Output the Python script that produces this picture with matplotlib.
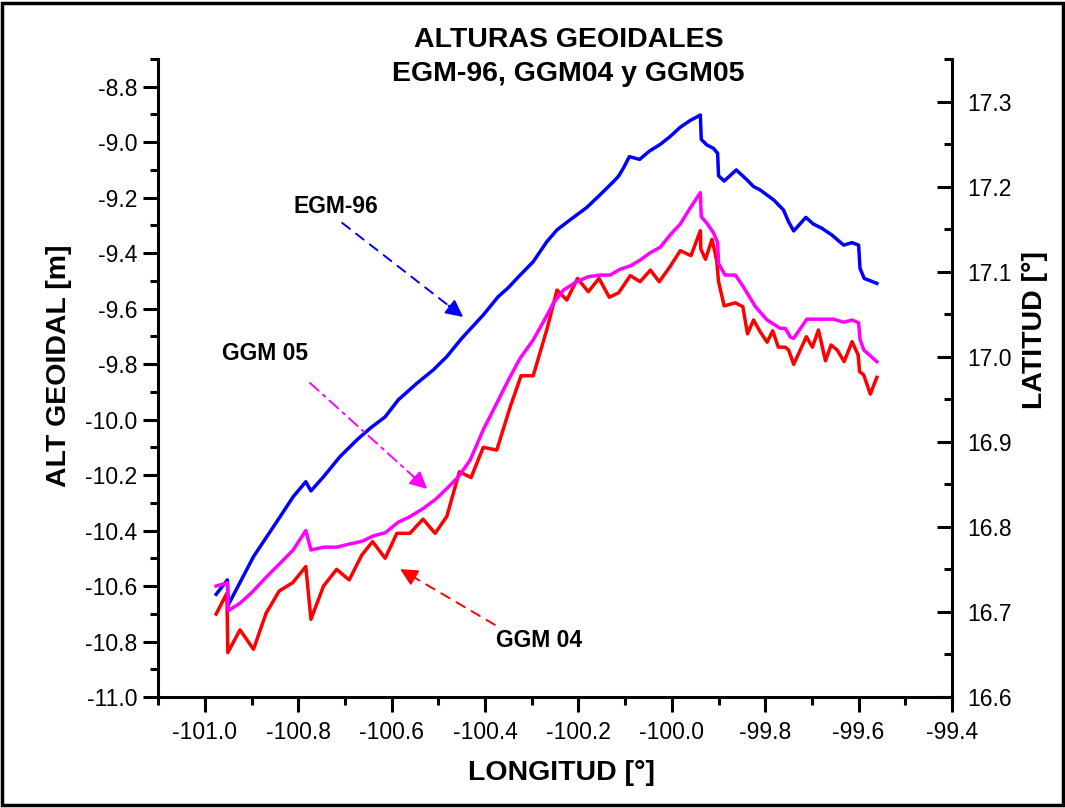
import matplotlib
matplotlib.use('Agg')
import matplotlib.pyplot as plt
from matplotlib.patches import Rectangle
from matplotlib.ticker import MultipleLocator, FormatStrFormatter

plt.rcParams['font.family'] = ['Liberation Sans', 'DejaVu Sans']
plt.rcParams['axes.unicode_minus'] = False

# perfil EGM-96
lon_egm96 = [-100.976, -100.952, -100.950, -100.896, -100.839, -100.811, -100.784, -100.773,
             -100.746, -100.711, -100.675, -100.646, -100.614, -100.586, -100.546, -100.511,
             -100.482, -100.450, -100.404, -100.372, -100.350, -100.325, -100.297, -100.268,
             -100.246, -100.218, -100.182, -100.154, -100.125, -100.114, -100.104, -100.091,
             -100.069, -100.048, -100.025, -100.004, -99.982, -99.961, -99.939, -99.937,
             -99.925, -99.911, -99.902, -99.900, -99.888, -99.862, -99.839, -99.825,
             -99.811, -99.782, -99.761, -99.750, -99.739, -99.713, -99.697, -99.679,
             -99.657, -99.632, -99.614, -99.600, -99.597, -99.588, -99.561]
h_egm96 = [-10.630, -10.578, -10.668, -10.494, -10.350, -10.278, -10.224, -10.257,
           -10.206, -10.134, -10.074, -10.031, -9.990, -9.929, -9.869, -9.821,
           -9.773, -9.707, -9.623, -9.557, -9.524, -9.479, -9.431, -9.359,
           -9.316, -9.280, -9.235, -9.190, -9.142, -9.122, -9.094, -9.052,
           -9.062, -9.032, -9.008, -8.980, -8.946, -8.922, -8.902, -8.990,
           -9.010, -9.022, -9.040, -9.121, -9.140, -9.100, -9.136, -9.160,
           -9.172, -9.208, -9.244, -9.287, -9.320, -9.271, -9.295, -9.310,
           -9.335, -9.371, -9.362, -9.371, -9.455, -9.491, -9.509]

# perfil GGM05
lon_ggm05 = [-100.976, -100.952, -100.950, -100.925, -100.900, -100.871, -100.839, -100.811,
             -100.784, -100.773, -100.746, -100.718, -100.689, -100.664, -100.639, -100.614,
             -100.586, -100.561, -100.532, -100.505, -100.481, -100.457, -100.432, -100.404,
             -100.375, -100.350, -100.325, -100.297, -100.275, -100.254, -100.232, -100.204,
             -100.179, -100.154, -100.132, -100.111, -100.089, -100.068, -100.046, -100.025,
             -100.004, -99.982, -99.961, -99.939, -99.937, -99.925, -99.911, -99.902,
             -99.900, -99.886, -99.864, -99.847, -99.821, -99.796, -99.768, -99.757,
             -99.746, -99.739, -99.711, -99.654, -99.632, -99.614, -99.600, -99.597,
             -99.589, -99.561]
h_ggm05 = [-10.600, -10.588, -10.689, -10.662, -10.624, -10.572, -10.518, -10.470,
           -10.400, -10.470, -10.460, -10.460, -10.448, -10.439, -10.419, -10.408,
           -10.370, -10.350, -10.320, -10.286, -10.247, -10.206, -10.146, -10.037,
           -9.941, -9.857, -9.779, -9.713, -9.647, -9.581, -9.533, -9.503,
           -9.485, -9.479, -9.479, -9.458, -9.446, -9.425, -9.398, -9.379,
           -9.335, -9.295, -9.238, -9.182, -9.269, -9.292, -9.326, -9.362,
           -9.437, -9.479, -9.479, -9.521, -9.593, -9.641, -9.671, -9.671,
           -9.703, -9.707, -9.638, -9.638, -9.649, -9.641, -9.651, -9.711,
           -9.749, -9.791]

# perfil GGM04
lon_ggm04 = [-100.976, -100.953, -100.951, -100.925, -100.896, -100.869, -100.841, -100.812,
             -100.784, -100.773, -100.746, -100.718, -100.691, -100.664, -100.641, -100.614,
             -100.589, -100.561, -100.533, -100.507, -100.482, -100.455, -100.430, -100.404,
             -100.375, -100.346, -100.323, -100.297, -100.268, -100.246, -100.225, -100.202,
             -100.179, -100.156, -100.134, -100.114, -100.089, -100.068, -100.046, -100.027,
             -100.004, -99.982, -99.959, -99.939, -99.938, -99.928, -99.914, -99.904,
             -99.900, -99.888, -99.864, -99.848, -99.838, -99.825, -99.811, -99.796,
             -99.784, -99.772, -99.757, -99.750, -99.739, -99.712, -99.699, -99.686,
             -99.671, -99.659, -99.646, -99.631, -99.614, -99.601, -99.598, -99.589,
             -99.575, -99.561]
h_ggm04 = [-10.701, -10.626, -10.840, -10.758, -10.828, -10.698, -10.618, -10.588,
           -10.530, -10.720, -10.600, -10.540, -10.578, -10.488, -10.440, -10.500,
           -10.410, -10.410, -10.359, -10.410, -10.349, -10.188, -10.209, -10.100,
           -10.110, -9.953, -9.842, -9.842, -9.677, -9.533, -9.569, -9.491,
           -9.539, -9.491, -9.559, -9.543, -9.481, -9.503, -9.461, -9.503,
           -9.449, -9.391, -9.409, -9.319, -9.385, -9.422, -9.350, -9.425,
           -9.503, -9.590, -9.579, -9.593, -9.691, -9.641, -9.683, -9.721,
           -9.680, -9.739, -9.739, -9.749, -9.801, -9.701, -9.739, -9.677,
           -9.788, -9.731, -9.749, -9.791, -9.719, -9.767, -9.827, -9.839,
           -9.908, -9.848]

fig = plt.figure(figsize=(10.65, 8.08), dpi=100)
ax = fig.add_axes([0.1486, 0.1374, 0.7453, 0.7896])

ax.plot(lon_egm96, h_egm96, color='#0000ff', lw=2.5)
ax.plot(lon_ggm04, h_ggm04, color='#ff0000', lw=2.5)
ax.plot(lon_ggm05, h_ggm05, color='#ff00ff', lw=2.5)

ax.set_xlim(-101.1, -99.4)
ax.set_ylim(-11.0, -8.7)
ax.xaxis.set_major_locator(MultipleLocator(0.2))
ax.xaxis.set_minor_locator(MultipleLocator(0.1))
ax.yaxis.set_major_locator(MultipleLocator(0.2))
ax.yaxis.set_minor_locator(MultipleLocator(0.1))
ax.xaxis.set_major_formatter(FormatStrFormatter('%.1f'))
ax.yaxis.set_major_formatter(FormatStrFormatter('%.1f'))
ax.tick_params(which='major', direction='out', length=11, width=2.2, labelsize=16.5, pad=4)
ax.tick_params(which='minor', direction='out', length=6, width=2.2)
ax.tick_params(axis='x', which='major', pad=6)
for side in ['top', 'right']:
    ax.spines[side].set_visible(False)
for side in ['left', 'bottom']:
    ax.spines[side].set_linewidth(2.2)

# eje secundario de latitud
ax2 = ax.twinx()
ax2.set_ylim(16.6, 17.35)
ax2.yaxis.set_major_locator(MultipleLocator(0.1))
ax2.yaxis.set_minor_locator(MultipleLocator(0.05))
ax2.yaxis.set_major_formatter(FormatStrFormatter('%.1f'))
ax2.tick_params(which='major', direction='in', length=11, width=2.2, labelsize=16.5, pad=11)
ax2.tick_params(which='minor', direction='in', length=6, width=2.2)
for side in ['top', 'left', 'bottom']:
    ax2.spines[side].set_visible(False)
ax2.spines['right'].set_linewidth(2.2)


def flecha(xy, xytext, color, ls):
    ax.annotate('', xy=xy, xytext=xytext,
                arrowprops=dict(arrowstyle='-', color=color, lw=1.4, linestyle=ls,
                                shrinkA=0, shrinkB=8))
    ax.annotate('', xy=xy, xytext=(xy[0] + (xytext[0] - xy[0]) * 0.12,
                                   xy[1] + (xytext[1] - xy[1]) * 0.12),
                arrowprops=dict(arrowstyle='-|>', color=color, lw=1.4,
                                mutation_scale=26, shrinkA=0, shrinkB=0))


ax.text(-100.719, -9.230, 'EGM-96', fontsize=16.5, fontweight='bold', ha='center', va='center')
flecha((-100.447, -9.630), (-100.706, -9.291), '#0000ff', (0, (5, 4)))
ax.text(-100.871, -9.763, 'GGM 05', fontsize=16.5, fontweight='bold', ha='center', va='center')
flecha((-100.524, -10.250), (-100.775, -9.868), '#ff00ff', (0, (6, 3, 1.5, 3)))
ax.text(-100.284, -10.798, 'GGM 04', fontsize=16.5, fontweight='bold', ha='center', va='center')
flecha((-100.582, -10.539), (-100.379, -10.740), '#ff0000', (0, (5, 4)))

fig.text(0.534, 0.950, 'ALTURAS GEOIDALES', fontsize=20.5, fontweight='bold', ha='center', va='center')
fig.text(0.534, 0.909, 'EGM-96, GGM04 y GGM05', fontsize=20.5, fontweight='bold', ha='center', va='center')
fig.text(0.527, 0.043, 'LONGITUD [°]', fontsize=20.5, fontweight='bold', ha='center', va='center')
fig.text(0.055, 0.547, 'ALT GEOIDAL [m]', fontsize=20.5, fontweight='bold', ha='center', va='center',
         rotation=90)
fig.text(0.972, 0.591, 'LATITUD [°]', fontsize=20.5, fontweight='bold', ha='center', va='center',
         rotation=90)

fig.patches.append(Rectangle((2 / 1065, 3 / 808), 1061 / 1065, 802 / 808, transform=fig.transFigure,
                             fill=False, ec='black', lw=2.5))

fig.savefig('out.png', dpi=100)
